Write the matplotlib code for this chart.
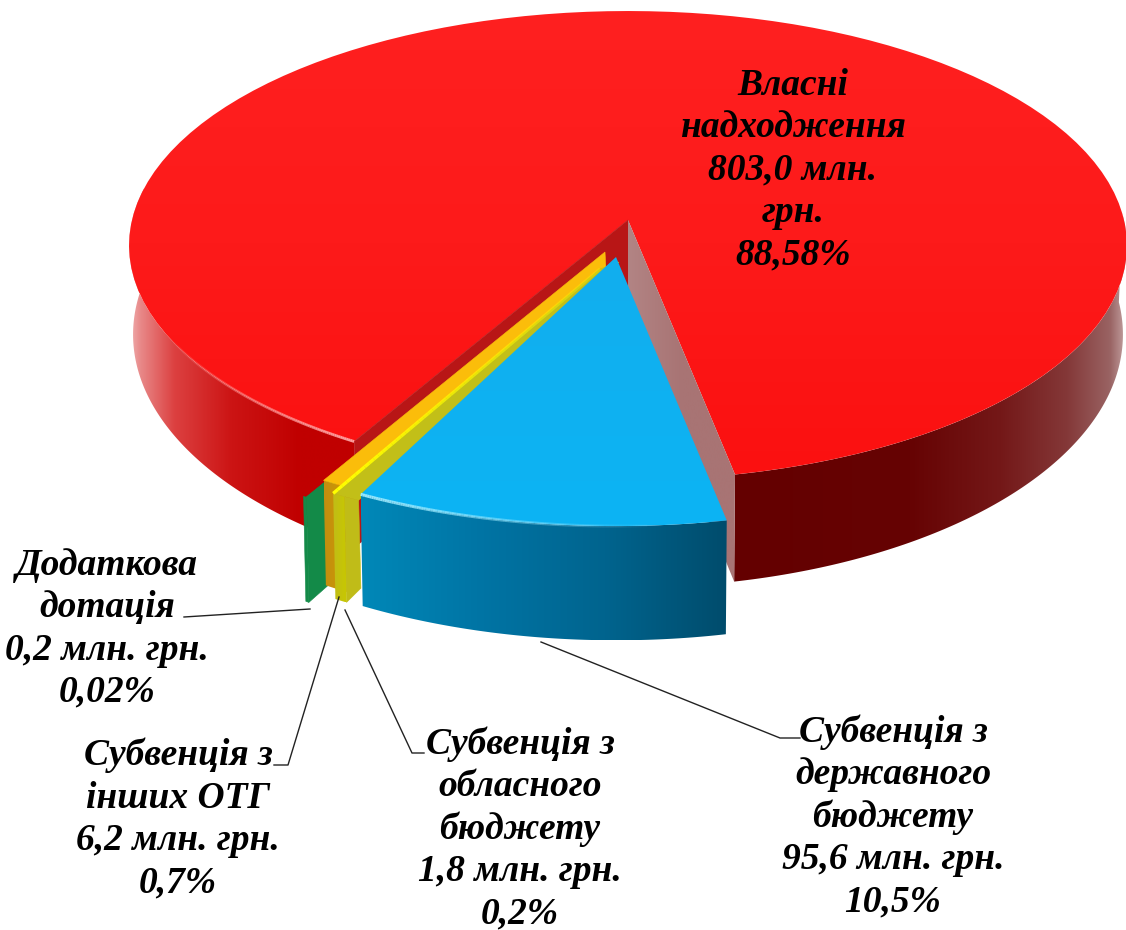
import numpy as np
import matplotlib
matplotlib.use("Agg")
import matplotlib.pyplot as plt
from matplotlib.colors import LinearSegmentedColormap
from matplotlib.patches import Polygon

# data
categories = ["Власні надходження", "Субвенція з державного бюджету",
              "Субвенція з обласного бюджету", "Субвенція з інших ОТГ", "Додаткова дотація"]
amounts = [803.0, 95.6, 1.8, 6.2, 0.2]
shares = [88.58, 10.5, 0.2, 0.7, 0.02]
labels = ["Власні\nнадходження\n803,0 млн.\nгрн.\n88,58%",
          "Субвенція з\nдержавного\nбюджету\n95,6 млн. грн.\n10,5%",
          "Субвенція з\nобласного\nбюджету\n1,8 млн. грн.\n0,2%",
          "Субвенція з\nінших ОТГ\n6,2 млн. грн.\n0,7%",
          "Додаткова\nдотація\n0,2 млн. грн.\n0,02%"]

START_ANGLE = 210
K = 0.1087
TOP_RING = (628, 220, 496, 231.7)
BOTTOM_RING = (628, 307, 492, 250)

plt.rcParams['font.family'] = ['Liberation Serif', 'DejaVu Serif']

fig = plt.figure(figsize=(11.26, 9.3), dpi=100)
ax = fig.add_axes([0, 0, 1, 1])
ax.set_xlim(0, 1126)
ax.set_ylim(930, 0)
ax.axis('off')

z = [1]


def next_z():
    z[0] += 1
    return z[0]


def project(theta, r, ring, dx=0, dy=0, s=1.0):
    cx, cy, a, b = ring
    t = np.radians(theta)
    u = r * np.sin(t)
    v = r * np.cos(t)
    w = 1 + K * v
    return cx + dx + s * a * u / w, cy + dy - s * b * v / w


def arc(t0, t1, ring, dx=0, dy=0, s=1.0, r=1.0):
    th = np.linspace(t0, t1, 120)
    x, y = project(th, r, ring, dx, dy, s)
    return np.column_stack([x, y])


def fill(verts, color):
    ax.add_patch(Polygon(verts, closed=True, facecolor=color, edgecolor=color, lw=0.4, zorder=next_z()))


def gradient(verts, stops, vertical=False):
    verts = np.asarray(verts)
    x0, y0 = verts.min(axis=0)
    x1, y1 = verts.max(axis=0)
    cmap = LinearSegmentedColormap.from_list("g", stops)
    ramp = np.linspace(0, 1, 256)
    ramp = ramp[:, None] if vertical else ramp[None, :]
    zz = next_z()
    im = ax.imshow(ramp, cmap=cmap, extent=(x0, x1, y1, y0), aspect='auto', zorder=zz, interpolation='bilinear')
    clip = Polygon(verts, closed=True, facecolor='none', edgecolor='none', transform=ax.transData)
    ax.add_patch(clip)
    im.set_clip_path(clip)
    ax.set_xlim(0, 1126)
    ax.set_ylim(930, 0)


def side(t0, t1, dx=0, dy=0, s=1.0, drop=0):
    return np.vstack([arc(t0, t1, TOP_RING, dx, dy, s), arc(t1, t0, BOTTOM_RING, dx, dy + drop, s)])


def top(t0, t1, dx=0, dy=0, s=1.0):
    apex = project(0, 0, TOP_RING, dx, dy, s)
    return np.vstack([[apex], arc(t0, t1, TOP_RING, dx, dy, s)])


def strip(t0, t1, inner_left, inner_right, dx=0, dy=0, s=1.0):
    # thin slices have bevels, so they end in a blunt edge and not in a point
    ax_x, ax_y = project(0, 0, TOP_RING, dx, dy, s)
    return np.vstack([[(ax_x + inner_right[0], ax_y + inner_right[1])],
                      arc(t0, t1, TOP_RING, dx, dy, s),
                      [(ax_x + inner_left[0], ax_y + inner_left[1])]])


def cut(theta, r0, dx=0, dy=0, s=1.0):
    return np.array([project(theta, 1, TOP_RING, dx, dy, s), project(theta, 1, BOTTOM_RING, dx, dy, s),
                     project(theta, r0, BOTTOM_RING, dx, dy, s), project(theta, r0, TOP_RING, dx, dy, s)])


def fade_line(pts, color, lw=2.0, start=0.95, end=0.05):
    alphas = np.linspace(start, end, len(pts) - 1)
    for i in range(len(pts) - 1):
        ax.plot(pts[i:i + 2, 0], pts[i:i + 2, 1], color=color, lw=lw, alpha=alphas[i],
                solid_capstyle='butt', zorder=z[0] + 1)
    next_z()


# slice angles go clockwise starting with the red slice
sweeps = [p / 100 * 360 for p in shares]
red_t0 = START_ANGLE
red_t1 = START_ANGLE + sweeps[0]
blue_t0 = red_t1 - 360
blue_t1 = blue_t0 + sweeps[1]
yel_t0 = blue_t1
yel_t1 = yel_t0 + sweeps[2]
org_t0 = yel_t1
org_t1 = org_t0 + sweeps[3]
grn_t0 = org_t1
grn_t1 = grn_t0 + sweeps[4]

# red slice
gradient(side(blue_t0 - 80, blue_t0), [(0, '#640000'), (0.45, '#660303'), (0.68, '#741818'),
                                       (0.85, '#843838'), (0.96, '#9a6464'), (1, '#c4a4a4')])
gradient(side(red_t0, 278), [(0, '#f0b0b0'), (0.05, '#e88888'), (0.2, '#dc4040'), (0.45, '#cc1414'),
                             (0.75, '#c00000'), (1, '#c00000')])
gradient(top(red_t0, red_t1), ['#ff2020', '#fd1a1a', '#fb1010'], vertical=True)
fade_line(arc(red_t0, red_t0 + 30, TOP_RING), '#ffa8a8')

apex_top = project(0, 0, TOP_RING)
apex_bot = (apex_top[0], apex_top[1] + 103)
fill([apex_top, project(red_t0, 1, TOP_RING), project(red_t0, 1, BOTTOM_RING), apex_bot], '#b81616')
gradient([apex_top, project(blue_t0, 1, TOP_RING), project(blue_t0, 1, BOTTOM_RING), apex_bot],
         ['#b28484', '#a87474', '#a87474'])

# green slice
g = dict(dx=-40, dy=49, s=1.03)
fill(top(grn_t0 - 1.2, grn_t1, **g), '#129048')
fill(side(grn_t0, grn_t1 + 0.3, **g), '#138a48')
fill(cut(grn_t0, 0.92, **g), '#138a48')

# orange slice
o = dict(dx=-23, dy=32, s=1.03)
gradient(side(org_t0, org_t1, **o), ['#c28e10', '#d09a00'])
fill(strip(org_t0, org_t1, (0, 0), (1, 18), **o), '#fbbd0a')

# yellow slice, drawn wider than its share or it would not show
y = dict(dx=-20, dy=37, s=1.05)
pad = 1.1
yel_rim = yel_t1 + pad - 1.3
yel_face = cut(yel_rim, 0.95, **y)
yel_face[3] = project(yel_t0 - pad, 1, TOP_RING, **y)
fill(yel_face, '#c0bc18')
gradient(side(yel_rim, yel_t1 + pad, **y), ['#c0bc18', '#c8c800'])
fill(strip(yel_t0 - pad, yel_t1 + pad, (-8, 12), (11, 5), **y), '#c2bf18')
rim_pt = np.array(project(yel_t1 + pad, 1.0, TOP_RING, **y))
inner_pt = np.array(project(0, 0, TOP_RING, **y)) + (-8, 12)
edge = np.column_stack([np.linspace(rim_pt[0], inner_pt[0], 60), np.linspace(rim_pt[1], inner_pt[1], 60)])
fade_line(edge, '#ffff00', lw=2.4, start=1.0, end=0.25)

# blue slice
b = dict(dx=-12, dy=37, s=1.035)
gradient(side(blue_t0, blue_t1, drop=6, **b), ['#0088b8', '#0074a4', '#00648e', '#004c6c'])
gradient(top(blue_t0, blue_t1, **b), ['#12aeee', '#0cb4f4'], vertical=True)
fade_line(arc(blue_t1, blue_t0 + 8, TOP_RING, **b), '#a0ecff', lw=2.2)

# leader lines
leaders = [([541, 780, 800], [642, 738, 738]),
           ([424, 412, 345], [753, 753, 610]),
           ([274, 288, 339], [765, 765, 597]),
           ([184, 310], [617, 609])]
for lx, ly in leaders:
    ax.plot(lx, ly, color='#222222', lw=1.0, zorder=next_z())

# labels
label_pos = [(793, 170), (893, 817), (520, 829), (178, 819), (107, 629)]
for txt, (lx, ly) in zip(labels, label_pos):
    ax.text(lx, ly, txt, ha='center', va='center', fontsize=27, fontweight='bold', fontstyle='italic',
            linespacing=1.27, color='black', zorder=next_z())

fig.savefig('out.png', dpi=100, facecolor='white')
